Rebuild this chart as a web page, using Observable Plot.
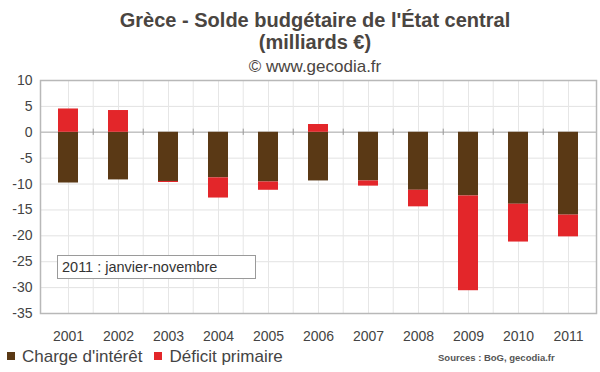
<!DOCTYPE html>
<html><head><meta charset="utf-8">
<script src="https://cdn.jsdelivr.net/npm/d3@7"></script>
<script src="https://cdn.jsdelivr.net/npm/@observablehq/plot@0.6"></script>
<style>
body{margin:0;background:#fff;font-family:"Liberation Sans",Arial,sans-serif;color:#444;}
#wrap{position:relative;width:600px;height:372px;overflow:hidden;}
#chart{position:absolute;left:0;top:0;}
.t{position:absolute;left:0;width:630px;text-align:center;white-space:nowrap;color:#4a4541;}
#t1{top:8px;font-size:20px;line-height:24px;font-weight:bold;}
#t2{top:30px;font-size:20px;line-height:24px;font-weight:bold;}
#t3{top:57px;font-size:17px;line-height:20px;}
#note{position:absolute;left:57px;top:255px;width:199px;height:24px;border:1px solid #9a9a9a;background:#fff;font-size:14.5px;line-height:22px;padding-left:4px;box-sizing:border-box;color:#333;white-space:nowrap;}
#legend{position:absolute;left:7px;top:347px;font-size:17px;line-height:20px;white-space:nowrap;color:#444;}
#legend span.sw{display:inline-block;width:8px;height:8px;margin-right:7px;vertical-align:2px;}
#src{position:absolute;left:438px;top:352px;font-size:9.5px;font-weight:bold;color:#555;white-space:nowrap;}
</style></head><body>
<div id="wrap">
<div id="chart"></div>
<div class="t" id="t1">Grèce - Solde budgétaire de l'État central</div>
<div class="t" id="t2">(milliards €)</div>
<div class="t" id="t3">© www.gecodia.fr</div>
<div id="note">2011 : janvier-novembre</div>
<div id="legend"></div>
<div id="src">Sources : BoG, gecodia.fr</div>
</div>
<script>
const years = ["2001","2002","2003","2004","2005","2006","2007","2008","2009","2010","2011"];
const charge = [-9.8,-9.2,-9.5,-8.8,-9.6,-9.4,-9.4,-11.2,-12.3,-13.9,-16.0];
const primaire = [4.5,4.2,-0.2,-3.9,-1.6,1.5,-1.0,-3.2,-18.3,-7.3,-4.2];
const series = ["Charge d'intérêt","Déficit primaire"];
const colors = ["#5a3915","#e3262a"];
const yTicks = [10,5,0,-5,-10,-15,-20,-25,-30,-35];

const rows = years.flatMap((yr,i)=>[
  {year:yr, serie:series[0], v:charge[i]},
  {year:yr, serie:series[1], v:primaire[i]}
]);

const W=600, H=345, mL=40, mR=4, mT=80, mB=32;
const step = (W-mL-mR)/years.length;

const chart = Plot.plot({
  width:W, height:H, marginLeft:mL, marginRight:mR, marginTop:mT, marginBottom:mB,
  style:{fontFamily:"Liberation Sans, Arial, sans-serif", background:"transparent"},
  x:{domain:years, paddingInner:0.6, paddingOuter:0.3, align:0.5, label:null},
  y:{domain:[-35,10], label:null},
  color:{domain:series, range:colors},
  marks:[
    Plot.ruleY(yTicks, {stroke:"#e2e2e2"}),
    Plot.ruleX(years, {stroke:"#e6e6e6"}),
    Plot.ruleX(years.slice(1), {stroke:"#e6e6e6", dx:-step/2}),
    Plot.ruleY([0], {stroke:"#c4c4c4", strokeWidth:1.5}),
    Plot.ruleX(years.slice(1), {y1:0.6, y2:-0.6, stroke:"#999", dx:-step/2}),
    Plot.barY(rows, {x:"year", y:"v", fill:"serie"}),
    Plot.frame({stroke:"#b8b8b8", strokeWidth:1.5}),
    Plot.axisY(yTicks, {tickSize:0, tickPadding:8, fontSize:14, tickFormat:d=>String(d), fill:"#444", label:null}),
    Plot.axisX({tickSize:0, tickPadding:18, fontSize:14, fill:"#444", label:null})
  ]
});
document.getElementById("chart").appendChild(chart);

const lg = document.getElementById("legend");
series.forEach((s,i)=>{
  const sw = document.createElement("span"); sw.className="sw"; sw.style.background=colors[i];
  lg.appendChild(sw);
  const tx = document.createElement("span"); tx.textContent=s; tx.style.marginRight="12px";
  lg.appendChild(tx);
});
</script>
</body></html>
